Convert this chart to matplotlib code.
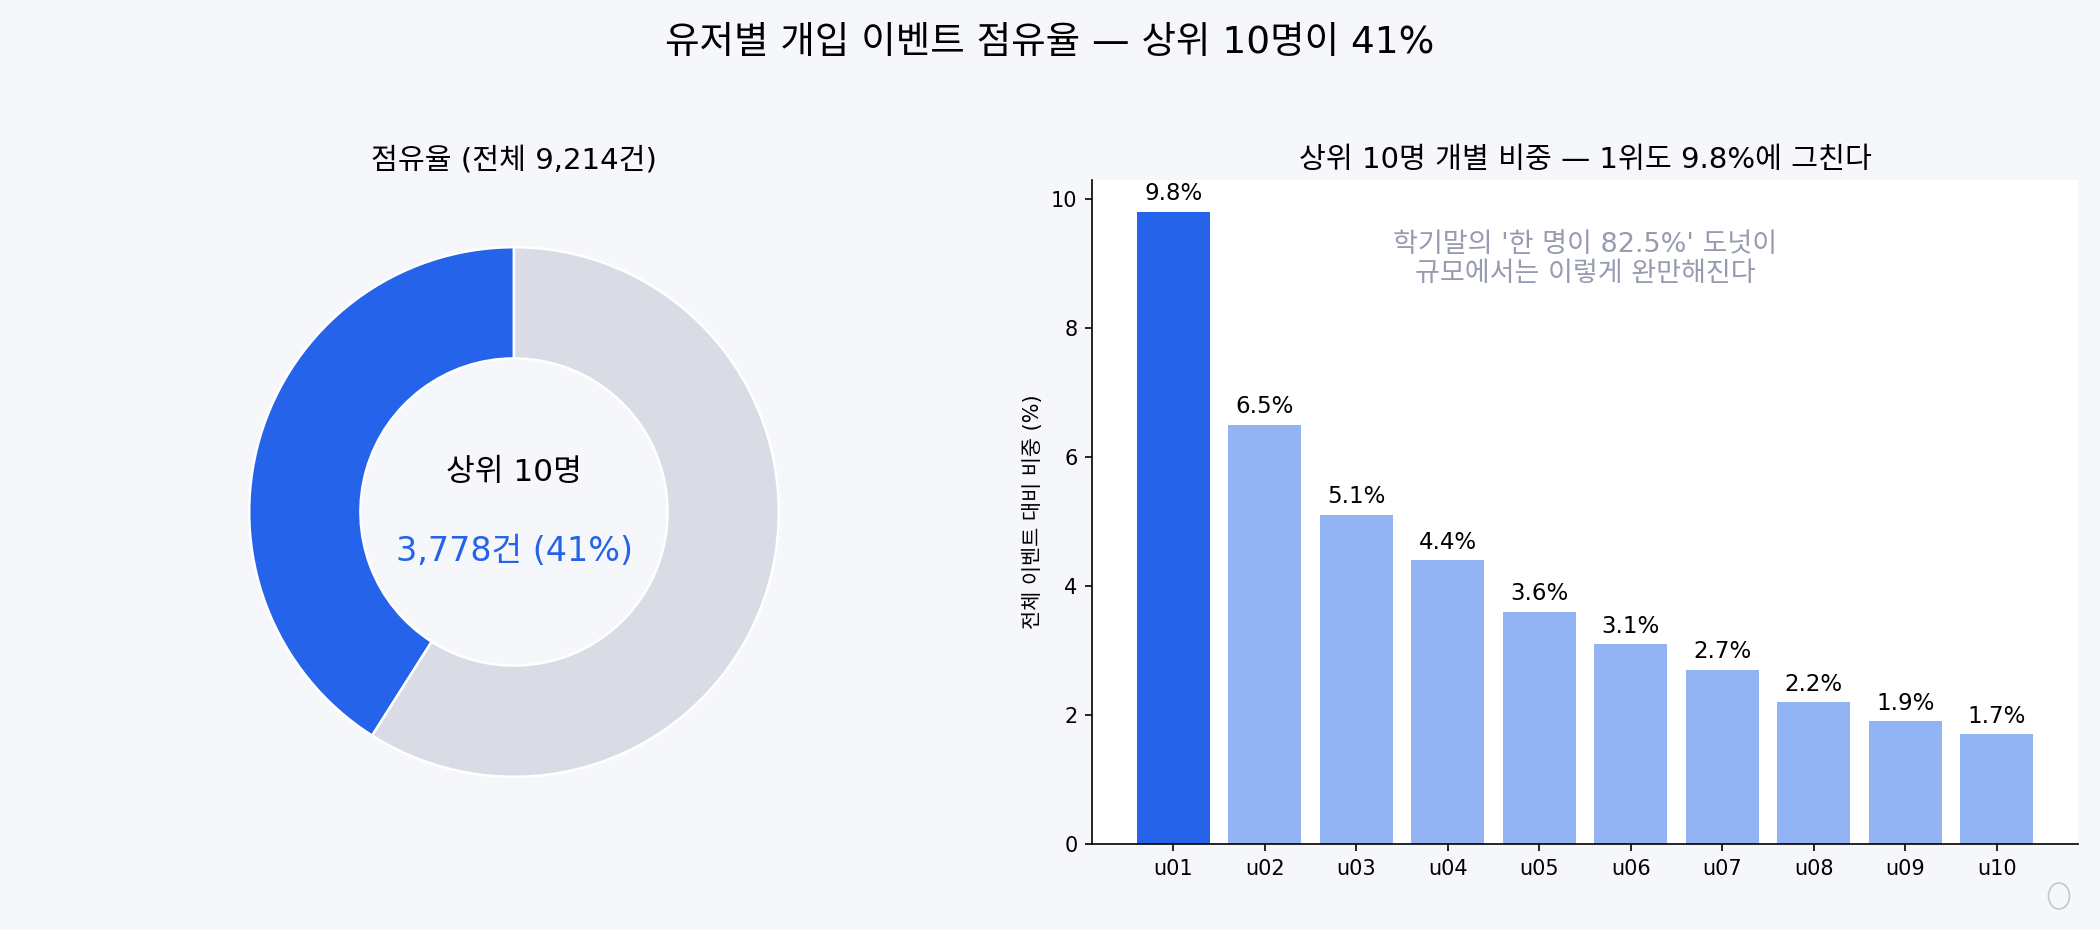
import matplotlib.pyplot as plt
from matplotlib.patches import Ellipse

plt.rcParams['font.family'] = ['DejaVu Sans', 'Noto Sans CJK KR']

total = 9214
top10 = 3778
share_labels = ['상위 10명', '나머지']
share_values = [top10, total - top10]

users = ['u01', 'u02', 'u03', 'u04', 'u05', 'u06', 'u07', 'u08', 'u09', 'u10']
pct = [9.8, 6.5, 5.1, 4.4, 3.6, 3.1, 2.7, 2.2, 1.9, 1.7]

blue = '#2563EB'
light_blue = '#93B4F4'
gray = '#D9DCE5'
bg = '#F5F7FB'

fig = plt.figure(figsize=(14, 6.2), dpi=150, facecolor=bg)
fig.suptitle('유저별 개입 이벤트 점유율 — 상위 10명이 41%', fontsize=18, y=0.954, va='center')

# donut
ax1 = fig.add_axes([183 / 2100, 86 / 930, 662 / 2100, 664 / 930])
ax1.set_facecolor(bg)
ax1.pie(share_values, colors=[blue, gray], startangle=90, counterclock=True,
        wedgeprops=dict(width=0.42, edgecolor='white', linewidth=1.2))
ax1.set_title('점유율 (전체 9,214건)', fontsize=14, pad=6)
ax1.text(0, 0.15, '상위 10명', ha='center', va='center', fontsize=15)
ax1.text(0, -0.15, f'{top10:,}건 ({top10 / total:.0%})', ha='center', va='center',
         fontsize=16, color=blue)

# bars
ax2 = fig.add_axes([1092 / 2100, 86 / 930, 986 / 2100, 664 / 930])
ax2.set_facecolor('white')
colors = [blue] + [light_blue] * (len(users) - 1)
bars = ax2.bar(users, pct, color=colors, width=0.8)
for b, v in zip(bars, pct):
    ax2.text(b.get_x() + b.get_width() / 2, v + 0.1, f'{v}%', ha='center', va='bottom',
             fontsize=11)
ax2.set_ylim(0, max(pct) * 1.05)
ax2.set_ylabel('전체 이벤트 대비 비중 (%)', fontsize=10)
ax2.set_title('상위 10명 개별 비중 — 1위도 9.8%에 그친다', fontsize=14, pad=6)
ax2.tick_params(labelsize=10)
ax2.spines['top'].set_visible(False)
ax2.spines['right'].set_visible(False)
ax2.text(0.5, 0.88, "학기말의 '한 명이 82.5%' 도넛이\n규모에서는 이렇게 완만해진다",
         transform=ax2.transAxes, ha='center', va='center', fontsize=13,
         color='#969BB0', linespacing=1.15)

fig.patches.append(Ellipse((2059 / 2100, 34 / 930), 21 / 2100, 26 / 930,
                           transform=fig.transFigure, fill=False,
                           edgecolor='#C3C7D3', linewidth=0.8))

plt.savefig('out.png', dpi=150, facecolor=bg)
